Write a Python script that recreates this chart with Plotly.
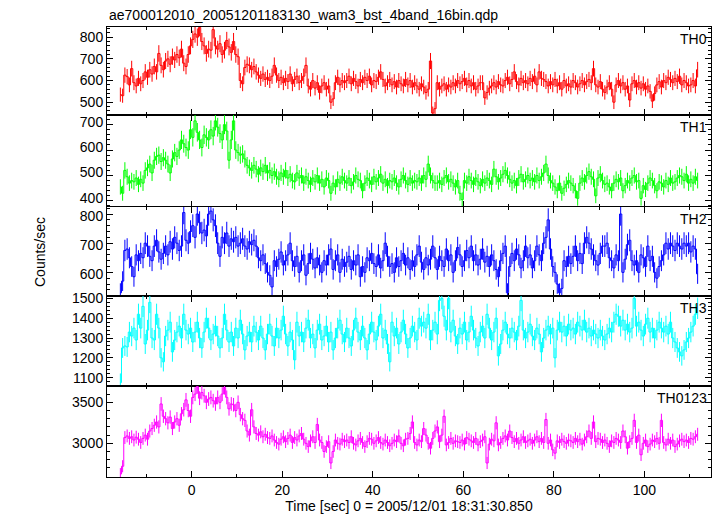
import numpy as np
import plotly.graph_objects as go
from plotly.subplots import make_subplots

T_START = -16.0
BIN = 0.5

TH0 = [
    535, 530, 625, 618, 580, 655, 590, 575, 610, 585,
    600, 640, 615, 650, 630, 665, 640, 725, 670, 650,
    690, 700, 675, 710, 695, 720, 705, 745, 680, 665,
    720, 760, 790, 815, 800, 845, 780, 760, 725, 745,
    740, 835, 760, 745, 770, 720, 740, 785, 755, 730,
    780, 720, 710, 600, 585, 660, 675, 670, 650, 665,
    640, 625, 610, 630, 605, 615, 600, 620, 670, 625,
    600, 615, 590, 610, 595, 630, 585, 605, 620, 590,
    600, 620, 670, 575, 560, 600, 565, 590, 545, 575,
    590, 560, 575, 500, 515, 590, 615, 580, 600, 590,
    600, 620, 585, 610, 595, 575, 605, 590, 615, 600,
    620, 580, 600, 595, 615, 640, 605, 575, 590, 605,
    580, 595, 570, 600, 585, 575, 605, 580, 600, 570,
    590, 575, 560, 585, 570, 545, 560, 690, 450, 470,
    590, 560, 575, 585, 560, 580, 570, 590, 575, 600,
    585, 595, 610, 580, 600, 575, 590, 560, 575, 590,
    590, 520, 545, 565, 575, 590, 570, 595, 580, 575,
    600, 615, 585, 605, 640, 595, 580, 610, 590, 600,
    585, 610, 595, 620, 580, 640, 610, 605, 595, 575,
    595, 580, 605, 575, 590, 560, 600, 575, 585, 570,
    600, 590, 570, 585, 600, 580, 595, 605, 590, 655,
    580, 570, 595, 560, 545, 570, 590, 560, 500, 580,
    600, 575, 590, 560, 575, 510, 585, 600, 570, 590,
    565, 585, 560, 575, 550, 505, 540, 580, 595, 570,
    600, 590, 615, 605, 590, 610, 595, 620, 580, 600,
    590, 575, 580, 600, 575, 650,
]

TH1 = [
    455, 430, 520, 495, 470, 480, 475, 490, 465, 485,
    470, 520, 530, 545, 510, 560, 575, 580, 555, 570,
    560, 545, 510, 565, 590, 575, 600, 640, 625, 610,
    600, 680, 650, 715, 670, 640, 610, 660, 650, 640,
    680, 655, 715, 690, 665, 640, 700, 675, 560, 640,
    715, 600, 590, 580, 585, 565, 540, 530, 520, 540,
    525, 505, 530, 515, 540, 510, 520, 500, 515, 495,
    485, 510, 495, 520, 490, 505, 480, 475, 510, 490,
    500, 470, 495, 480, 465, 490, 475, 500, 470, 485,
    455, 490, 480, 430, 470, 455, 485, 470, 495, 480,
    470, 490, 460, 475, 500, 485, 480, 440, 470, 490,
    480, 465, 495, 475, 490, 505, 470, 485, 460, 480,
    475, 490, 470, 455, 485, 500, 480, 465, 490, 470,
    480, 475, 490, 470, 500, 485, 545, 500, 480, 470,
    470, 480, 465, 490, 500, 475, 485, 470, 455, 480,
    430, 405, 480, 470, 495, 480, 465, 490, 475, 460,
    485, 470, 490, 480, 465, 525, 495, 475, 490, 505,
    520, 500, 485, 470, 480, 460, 490, 505, 475, 485,
    500, 480, 490, 475, 500, 480, 495, 510, 545, 500,
    480, 470, 455, 440, 470, 430, 450, 465, 480, 470,
    460, 440, 410, 470, 490, 475, 500, 515, 495, 485,
    420, 490, 505, 480, 465, 470, 455, 440, 470, 485,
    475, 490, 440, 460, 480, 470, 490, 500, 475, 480,
    410, 460, 445, 470, 490, 480, 460, 440, 475, 470,
    455, 480, 465, 490, 470, 475, 490, 500, 495, 480,
    505, 470, 485, 470, 495, 480,
]

TH2 = [
    530, 570, 675, 680, 650, 620, 585, 660, 640, 665,
    650, 700, 690, 655, 640, 690, 710, 670, 645, 665,
    690, 660, 705, 680, 720, 700, 675, 690, 805, 710,
    700, 740, 760, 720, 800, 770, 735, 745, 725, 800,
    810, 780, 760, 700, 655, 720, 700, 735, 690, 715,
    705, 720, 690, 700, 715, 690, 680, 705, 695, 710,
    690, 650, 640, 660, 630, 600, 590, 550, 640, 620,
    645, 670, 625, 640, 660, 700, 640, 620, 655, 600,
    640, 660, 590, 630, 665, 645, 615, 650, 625, 600,
    640, 625, 660, 680, 610, 640, 660, 600, 645, 620,
    635, 655, 610, 640, 625, 660, 585, 620, 600, 650,
    640, 665, 630, 620, 660, 615, 640, 700, 655, 620,
    630, 600, 650, 620, 640, 665, 625, 650, 610, 640,
    620, 660, 690, 635, 610, 650, 625, 645, 690, 650,
    610, 655, 640, 620, 680, 640, 660, 600, 640, 685,
    660, 620, 640, 675, 650, 690, 640, 660, 625, 645,
    680, 635, 655, 620, 660, 640, 610, 585, 640, 665,
    690, 530, 620, 665, 640, 680, 660, 615, 640, 690,
    650, 660, 615, 640, 690, 660, 640, 700, 720, 780,
    680, 620, 600, 560, 530, 545, 640, 620, 655, 630,
    655, 690, 640, 665, 630, 700, 720, 700, 680, 660,
    640, 625, 665, 690, 690, 700, 650, 640, 615, 660,
    640, 800, 600, 645, 695, 710, 640, 625, 640, 600,
    660, 650, 620, 690, 640, 655, 600, 580, 620, 640,
    660, 700, 680, 700, 690, 675, 700, 690, 680, 700,
    690, 700, 670, 690, 680, 595,
]

TH3 = [
    1075, 1250, 1260, 1255, 1330, 1310, 1350, 1290, 1420, 1350,
    1460, 1270, 1340, 1480, 1300, 1290, 1420, 1350, 1200, 1180,
    1310, 1340, 1380, 1230, 1290, 1330, 1360, 1300, 1420, 1340,
    1320, 1350, 1280, 1330, 1380, 1300, 1250, 1330, 1400, 1350,
    1290, 1320, 1360, 1310, 1250, 1300, 1420, 1340, 1280, 1330,
    1260, 1350, 1300, 1390, 1320, 1240, 1310, 1330, 1280, 1360,
    1330, 1290, 1360, 1300, 1240, 1320, 1370, 1310, 1260, 1350,
    1300, 1340, 1410, 1320, 1260, 1330, 1290, 1190, 1380, 1310,
    1330, 1280, 1350, 1390, 1300, 1320, 1250, 1340, 1370, 1290,
    1310, 1360, 1280, 1330, 1240, 1300, 1350, 1390, 1320, 1280,
    1350, 1300, 1260, 1340, 1400, 1330, 1290, 1360, 1300, 1240,
    1320, 1380, 1330, 1290, 1360, 1420, 1300, 1340, 1270, 1180,
    1380, 1310, 1350, 1270, 1330, 1390, 1320, 1250, 1300, 1360,
    1330, 1290, 1400, 1360, 1380, 1350, 1420, 1290, 1340, 1380,
    1320, 1490, 1500, 1410, 1340, 1500, 1330, 1390, 1310, 1270,
    1350, 1320, 1380, 1290, 1330, 1410, 1340, 1300, 1260, 1330,
    1360, 1300, 1420, 1350, 1290, 1330, 1400, 1210, 1270, 1340,
    1380, 1320, 1300, 1350, 1330, 1290, 1360, 1490, 1340, 1300,
    1330, 1370, 1310, 1290, 1350, 1320, 1230, 1300, 1340, 1360,
    1320, 1350, 1200, 1340, 1380, 1330, 1360, 1310, 1370, 1340,
    1350, 1320, 1380, 1360, 1340, 1390, 1330, 1350, 1310, 1340,
    1320, 1300, 1340, 1310, 1290, 1320, 1350, 1330, 1380, 1420,
    1410, 1360, 1390, 1340, 1370, 1330, 1350, 1500, 1360, 1380,
    1340, 1310, 1370, 1400, 1330, 1350, 1300, 1340, 1380, 1350,
    1330, 1360, 1320, 1380, 1300, 1280, 1250, 1230, 1210, 1240,
    1280, 1300, 1330, 1360, 1420, 1450,
]

TH0123 = [
    2625, 2720, 3070, 3090, 3060, 3080, 3040, 3075, 3050, 3010,
    3060, 3100, 3050, 3150, 3180, 3220, 3260, 3200, 3480, 3330,
    3300, 3250, 3320, 3180, 3260, 3300, 3220, 3360, 3410, 3530,
    3400, 3330, 3560, 3600, 3690, 3550, 3620, 3580, 3500, 3540,
    3560, 3520, 3480, 3560, 3500, 3600, 3680, 3560, 3420, 3480,
    3470, 3400, 3500, 3350, 3300, 3280, 3150, 3100, 3410, 3200,
    3120, 3100, 3140, 3080, 3110, 3070, 3060, 3090, 3040, 3010,
    2990, 3050, 3080, 3020, 3060, 3100, 3010, 3070, 3040, 3090,
    3120, 3050, 3000, 2960, 3030, 3080, 3010, 3230, 3040, 3010,
    2900, 2960, 3020, 2760, 2900, 3040, 3000, 2990, 3050, 3020,
    3040, 3010, 3080, 3000, 2980, 3030, 3060, 3010, 2960, 3020,
    3060, 3050, 3000, 3030, 3070, 3010, 2990, 3040, 3010, 2970,
    3000, 3040, 3020, 3090, 3000, 2970, 3050, 3060, 3120, 3260,
    3010, 2980, 3040, 3020, 3180, 3100, 3000, 2940, 3060, 3150,
    3200, 3020, 3100, 3330, 2980, 3010, 3060, 3000, 3030, 3020,
    3010, 3040, 2990, 3070, 3050, 3030, 3010, 3060, 2980, 3020,
    3040, 3080, 2760, 2990, 3050, 3030, 3250, 2980, 3010, 3060,
    3090, 3040, 3150, 3070, 3020, 3060, 3000, 3040, 3080, 3010,
    3030, 3050, 3000, 3040, 3080, 3020, 3060, 3010, 3290, 3000,
    3040, 2920, 2880, 3030, 3010, 3050, 3020, 3000, 3040, 3030,
    3010, 3060, 3020, 3050, 2990, 3040, 3080, 3150, 3060, 3260,
    3020, 3060, 3050, 3010, 3040, 3000, 2960, 3030, 3010, 3060,
    3040, 3010, 3150, 3080, 2940, 3020, 3060, 3280, 3010, 3100,
    2860, 3000, 3040, 2960, 2990, 3040, 3020, 3060, 3000, 3280,
    3010, 2980, 3050, 3000, 3040, 2960, 2990, 3030, 3050, 3020,
    3040, 3010, 3060, 3050, 3080, 3110,
]

NAMES = ["TH0", "TH1", "TH2", "TH3", "TH0123"]
SERIES = [TH0, TH1, TH2, TH3, TH0123]
COLORS = ["#ff0000", "#00ff00", "#0000ff", "#00ffff", "#ff00ff"]
Y_RANGES = [[441, 847], [376, 738], [519, 824], [1058, 1512], [2589, 3699]]
Y_DTICK = [100, 100, 100, 100, 500]
Y_MINOR = [20, 20, 20, 20, 100]
Y_LABEL_SHIFT = [0, -3, 2, 0, 0]
X_RANGE = [-18.7, 114.7]
TITLE = "ae700012010_20051201183130_wam3_bst_4band_16bin.qdp"
XLABEL = "Time [sec] 0 = 2005/12/01 18:31:30.850"
YLABEL = "Counts/sec"

FONT = "Liberation Sans, Arial, sans-serif"

fig = make_subplots(rows=5, cols=1, shared_xaxes=True, vertical_spacing=0,
                    row_heights=[88, 92, 89, 90, 91])

for k, (name, vals, col) in enumerate(zip(NAMES, SERIES, COLORS)):
    v = np.array(vals, dtype=float)
    x = T_START + BIN * (np.arange(len(v)) + 0.5)
    err = np.sqrt(v * BIN) / BIN
    fig.add_trace(go.Scatter(
        x=x, y=v, mode="lines", line=dict(color=col, width=1, shape="hvh"),
        error_y=dict(type="data", array=err, color=col, thickness=1, width=0),
        showlegend=False, hoverinfo="skip"), row=k + 1, col=1)

axis_common = dict(showline=True, linecolor="black", linewidth=1, mirror="ticks",
                   ticks="inside", tickcolor="black", showgrid=False, zeroline=False,
                   tickfont=dict(family=FONT, size=14, color="black"))

for k in range(5):
    fig.update_xaxes(range=X_RANGE, dtick=20, tick0=0, ticklen=6,
                     minor=dict(dtick=10, tick0=0, ticklen=3, ticks="inside", tickcolor="black"),
                     showticklabels=(k == 4), row=k + 1, col=1, **axis_common)
    fig.update_yaxes(range=Y_RANGES[k], dtick=Y_DTICK[k], tick0=0, ticklen=6,
                     ticklabelshift=Y_LABEL_SHIFT[k],
                     minor=dict(dtick=Y_MINOR[k], tick0=0, ticklen=3, ticks="inside", tickcolor="black"),
                     row=k + 1, col=1, **axis_common)

fig.update_xaxes(title=dict(text=XLABEL, font=dict(family=FONT, size=14, color="black"), standoff=2),
                 row=5, col=1)

annotations = [
    dict(text=TITLE, xref="paper", yref="paper", x=0, y=1, xanchor="left", yanchor="bottom",
         yshift=2, showarrow=False, font=dict(family=FONT, size=14, color="black")),
    dict(text=YLABEL, xref="paper", yref="paper", x=0, y=0.5, xanchor="center", yanchor="middle",
         xshift=-67, textangle=-90, showarrow=False, font=dict(family=FONT, size=14, color="black")),
]
for k, name in enumerate(NAMES):
    yaxis = fig.layout["yaxis" if k == 0 else f"yaxis{k+1}"]
    top = yaxis.domain[1]
    annotations.append(dict(text=name, xref="paper", yref="paper", x=1, y=top,
                            xanchor="right", yanchor="top", xshift=-2, yshift=-2,
                            showarrow=False, font=dict(family=FONT, size=14, color="black")))

fig.update_layout(width=717, height=516, margin=dict(l=107, r=6, t=27, b=39),
                  paper_bgcolor="white", plot_bgcolor="white", annotations=annotations)

fig.write_html("out.html", config={"displayModeBar": False},
               post_script="document.body.style.margin='0';document.body.style.overflow='hidden';")
